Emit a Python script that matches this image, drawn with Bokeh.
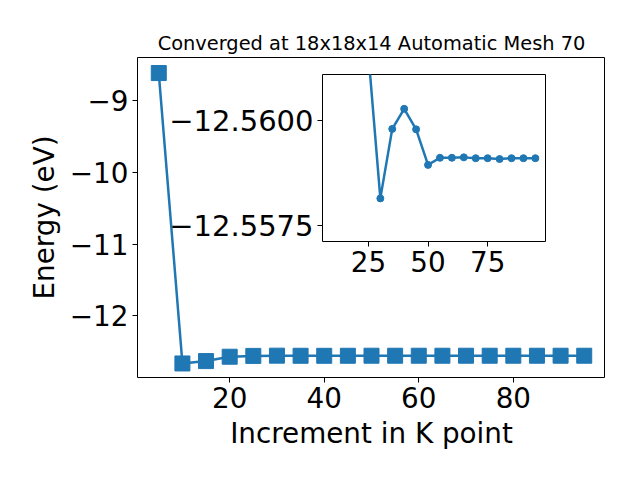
from bokeh.plotting import figure
from bokeh.models import Range1d, FixedTicker, CustomJSTickFormatter, ColumnDataSource, GridBox
from bokeh.embed import file_html
from bokeh.resources import INLINE

# ---- data ----
kpoints = [5, 10, 15, 20, 25, 30, 35, 40, 45, 50, 55, 60, 65, 70, 75, 80, 85, 90, 95]
energy = [-8.614, -12.667, -12.634, -12.573, -12.5616, -12.55815, -12.55981, -12.56029,
          -12.55980, -12.55895, -12.55912, -12.55912, -12.55913, -12.55911, -12.55911,
          -12.55909, -12.55911, -12.55911, -12.55911]
inset_kpoints = kpoints[1:]
inset_energy = energy[1:]

main_xticks = [20, 40, 60, 80]
main_yticks = [-12, -11, -10, -9]
inset_xticks = [25, 50, 75]
inset_yticks = [-12.5600, -12.5575]

title_text = "Converged at 18x18x14 Automatic Mesh 70"
xlabel = "Increment in K point"
ylabel = "Energy (eV)"

BLUE = "#1f77b4"
FONT = "DejaVu Sans"

# shared panel sizes (grid aligns plot frames, so both figures use the same borders)
BL, BT, BR, BB = 155, 57, 1, 84
SHIFT = 19

minus_int = CustomJSTickFormatter(code="return (tick < 0 ? '\\u2212' : '') + Math.abs(tick).toFixed(0);")
minus_4 = CustomJSTickFormatter(code="return (tick < 0 ? '\\u2212' : '') + Math.abs(tick).toFixed(4);")


def style_axes(fig, xsize, ysize):
    for ax, sz in ((fig.xaxis[0], xsize), (fig.yaxis[0], ysize)):
        ax.major_label_text_font = FONT
        ax.major_label_text_font_size = sz
        ax.major_label_text_color = "black"
        ax.axis_label_text_font = FONT
        ax.axis_label_text_font_size = "27.8px"
        ax.axis_label_text_font_style = "normal"
        ax.axis_label_text_color = "black"
        ax.major_tick_in = 0
        ax.major_tick_out = 5
        ax.minor_tick_line_color = None
        ax.axis_line_color = None
        ax.major_tick_line_color = "black"
        ax.major_label_standoff = 4
    fig.xgrid.grid_line_color = None
    fig.ygrid.grid_line_color = None
    fig.outline_line_color = "black"
    fig.outline_line_width = 1
    fig.outline_line_alpha = 1


src = ColumnDataSource(dict(x=kpoints, y=energy))
p = figure(frame_width=468 + SHIFT, frame_height=320, output_backend="svg", toolbar_location=None,
           x_range=Range1d(0.5, 99.5), y_range=Range1d(-12.863, -8.397),
           min_border_left=BL, min_border_right=BR, min_border_top=BT, min_border_bottom=BB,
           title=title_text, margin=(0, 0, 0, -SHIFT))
p.title.text_font = FONT
p.title.text_font_size = "19.4px"
p.title.text_font_style = "normal"
p.title.text_color = "black"
p.title.align = "center"
p.title.standoff = 6
p.line("x", "y", source=src, line_color=BLUE, line_width=2.5)
p.scatter("x", "y", source=src, marker="square", size=15, fill_color=BLUE, line_color=BLUE)
style_axes(p, "27.8px", "27.8px")
p.xaxis.ticker = FixedTicker(ticks=main_xticks)
p.yaxis.ticker = FixedTicker(ticks=main_yticks)
p.yaxis.formatter = minus_int
p.xaxis.axis_label = xlabel
p.yaxis.axis_label = ylabel
p.xaxis.axis_label_standoff = 6
p.yaxis.axis_label_standoff = 6

isrc = ColumnDataSource(dict(x=inset_kpoints, y=inset_energy))
q = figure(frame_width=223, frame_height=167, output_backend="svg", toolbar_location=None,
           x_range=Range1d(5.75, 99.25), y_range=Range1d(-12.55712, -12.56111),
           min_border_left=BL, min_border_right=BR, min_border_top=BT, min_border_bottom=BB,
           background_fill_color="white", border_fill_color=None,
           margin=(17, 0, 0, 166))
q.line("x", "y", source=isrc, line_color=BLUE, line_width=2.5)
q.scatter("x", "y", source=isrc, marker="circle", size=7, fill_color=BLUE, line_color=BLUE)
style_axes(q, "27.8px", "29px")
q.xaxis.ticker = FixedTicker(ticks=inset_xticks)
q.yaxis.ticker = FixedTicker(ticks=inset_yticks)
q.yaxis.formatter = minus_4

layout = GridBox(children=[(p, 0, 0), (q, 0, 0)])
open("out.html", "w").write(file_html(layout, INLINE))
